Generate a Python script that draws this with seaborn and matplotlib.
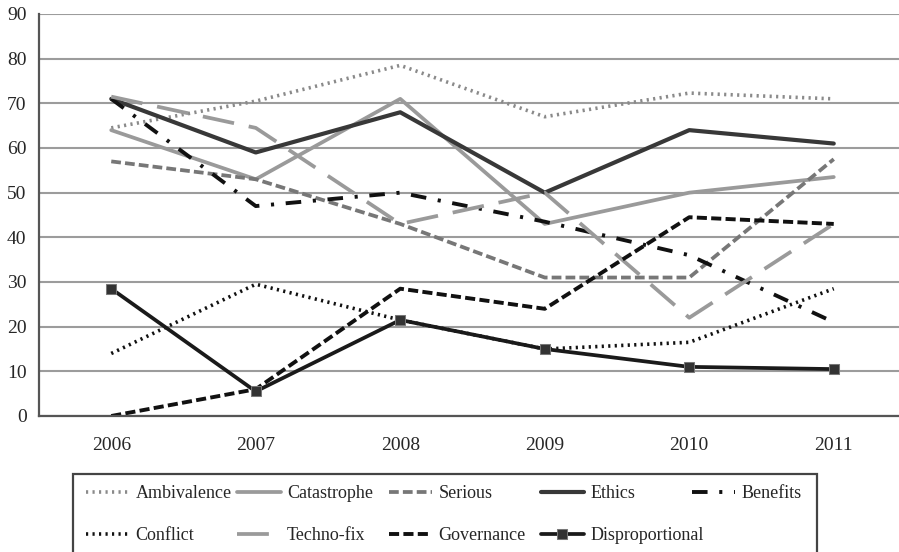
import numpy as np
import pandas as pd
import matplotlib.pyplot as plt
import seaborn as sns
from matplotlib.patches import Rectangle

years = ["2006", "2007", "2008", "2009", "2010", "2011"]
ambivalence = [64.5, 70.5, 78.5, 67, 72.3, 71]
catastrophe = [64, 53, 71, 43, 50, 53.5]
serious = [57, 53, 43, 31, 31, 57.5]
ethics = [71, 59, 68, 50, 64, 61]
benefits = [71, 47, 50, 43.5, 36, 21]
conflict = [14, 29.5, 21.5, 15, 16.5, 28.5]
technofix = [71.5, 64.5, 43, 50, 22, 43]
governance = [0, 6, 28.5, 24, 44.5, 43]
disproportional = [28.5, 5.5, 21.5, 15, 11, 10.5]

series = {
    "Ambivalence": ambivalence,
    "Catastrophe": catastrophe,
    "Serious": serious,
    "Ethics": ethics,
    "Benefits": benefits,
    "Conflict": conflict,
    "Techno-fix": technofix,
    "Governance": governance,
    "Disproportional": disproportional,
}

styles = {
    "Ambivalence": dict(color="#8a8a8a", lw=2.6, ls=(0, (0.6, 1.2))),
    "Catastrophe": dict(color="#9a9a9a", lw=2.7, ls="-"),
    "Serious": dict(color="#777777", lw=2.7, ls=(0, (2.6, 1.1))),
    "Ethics": dict(color="#383838", lw=3.0, ls="-"),
    "Benefits": dict(color="#111111", lw=2.8, ls=(0, (4, 3, 0.8, 3))),
    "Conflict": dict(color="#111111", lw=2.6, ls=(0, (0.6, 1.2))),
    "Techno-fix": dict(color="#9a9a9a", lw=2.7, ls=(0, (8.5, 4))),
    "Governance": dict(color="#111111", lw=2.8, ls=(0, (2.6, 1.1))),
    "Disproportional": dict(color="#1a1a1a", lw=2.7, ls="-", marker="s",
                            ms=7, mfc="#333333", mec="#777777"),
}

rows = []
for name, vals in series.items():
    for i, v in enumerate(vals):
        rows.append({"series": name, "x": i, "value": v})
df = pd.DataFrame(rows)

sns.set_style("white")
plt.rcParams["font.family"] = ["Liberation Serif", "DejaVu Serif"]

W, H = 899, 552
fig = plt.figure(figsize=(W / 100, H / 100), dpi=100)
ax = fig.add_axes([39 / W, 1 - 416 / H, 867 / W, 402 / H])

handles = {}
for name in series:
    st = dict(styles[name])
    col = st.pop("color")
    lw = st.pop("lw")
    ls = st.pop("ls")
    sub = df[df.series == name]
    sns.lineplot(data=sub, x="x", y="value", ax=ax, label=name,
                 color=col, linewidth=lw, **st)
    line = ax.get_lines()[-1]
    line.set_linestyle(ls)
    handles[name] = line

ax.set_xlim(-0.5, 5.5)
ax.set_ylim(0, 90)
ax.set_yticks(range(0, 91, 10))
ax.yaxis.grid(True, color="#9c9c9c", lw=1.5)
ax.set_axisbelow(True)
ax.set_xticks(np.arange(-0.5, 5.6, 1))
ax.set_xticklabels([])
ax.set_xticks(range(6), minor=True)
ax.set_xticklabels(years, minor=True)
ax.tick_params(axis="x", which="major", direction="out", length=5, width=1.4, color="#555555")
ax.tick_params(axis="x", which="minor", length=0, pad=15, labelsize=14)
ax.tick_params(axis="y", direction="out", length=5, width=1.4, color="#555555", labelsize=14, pad=4)
ax.set_xlabel("")
ax.set_ylabel("")
for s in ["top", "right"]:
    ax.spines[s].set_visible(False)
for s in ["left", "bottom"]:
    ax.spines[s].set_color("#555555")
    ax.spines[s].set_linewidth(1.6)
ax.get_legend().remove()

# legend frame, bottom edge falls below the picture
fig.add_artist(Rectangle((73 / W, -0.05), (817 - 73) / W, 0.05 + 1 - 474 / H,
                         transform=fig.transFigure, fill=False,
                         edgecolor="#444444", lw=1.6))

columns = [["Ambivalence", "Conflict"], ["Catastrophe", "Techno-fix"],
           ["Serious", "Governance"], ["Ethics", "Disproportional"],
           ["Benefits"]]
for i, names in enumerate(columns):
    fig.legend([handles[n] for n in names], names, loc="upper left",
               bbox_to_anchor=((86 + 151.5 * i) / W, 1 - 485 / H),
               frameon=False, fontsize=13, handlelength=2.4,
               handletextpad=0.35, labelspacing=1.4, borderpad=0,
               borderaxespad=0)

fig.savefig("out.png", dpi=100)
